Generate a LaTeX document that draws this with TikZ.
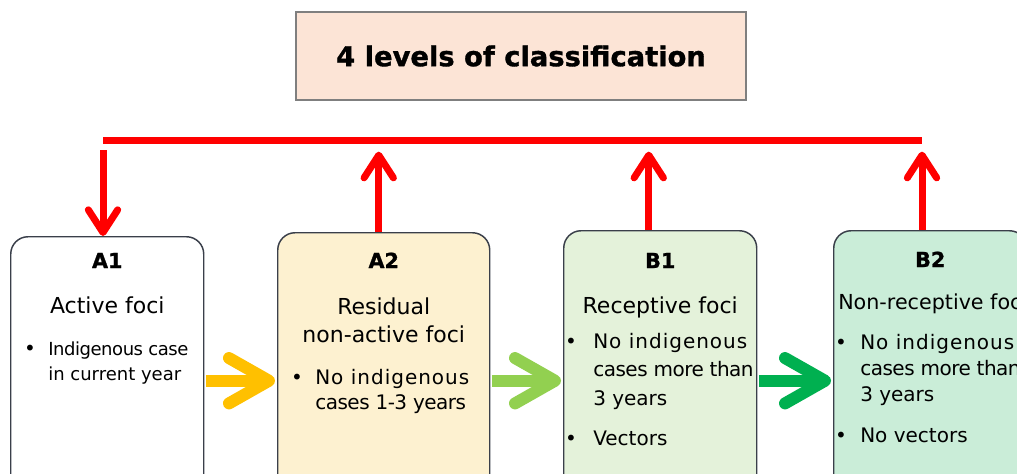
\documentclass[tikz,border=0pt]{standalone}
\usepackage{fontspec}
\setmainfont{DejaVu Sans}[BoldFeatures={FakeBold=1.2}]
\usetikzlibrary{arrows.meta}

\definecolor{peach}{HTML}{FCE4D6}
\definecolor{titleline}{HTML}{7F7F7F}
\definecolor{boxline}{HTML}{3A3F4A}
\definecolor{residual}{HTML}{FDF1D0}
\definecolor{receptive}{HTML}{E4F2DA}
\definecolor{nonreceptive}{HTML}{CAEDD8}
\definecolor{linkred}{HTML}{FF0000}
\definecolor{amber}{HTML}{FFC000}
\definecolor{lightgreen}{HTML}{92D050}
\definecolor{deepgreen}{HTML}{00B050}

% lines stacked below the first baseline
\newcommand{\leftlines}[1]{\begin{tabular}[t]{@{}l@{}}#1\end{tabular}}
\newcommand{\midlines}[1]{\begin{tabular}[t]{@{}c@{}}#1\end{tabular}}
\newcommand{\wide}[1]{{\addfontfeature{LetterSpace=5}#1}}
\newcommand{\tight}[1]{{\addfontfeature{LetterSpace=-2.5}#1}}

\tikzset{
  level/.style={draw=boxline, line width=1.1pt, rounded corners=13pt,
    anchor=north west, inner sep=0pt},
  titlebox/.style={draw=titleline, fill=peach, line width=0.9pt,
    minimum width=337.5pt, minimum height=66pt,
    font=\fontsize{20.5}{24}\selectfont\bfseries},
  head/.style={anchor=base, inner sep=0pt, font=\fontsize{15.5}{18}\selectfont\bfseries},
  sub/.style={anchor=base, inner sep=0pt, font=\fontsize{16.5}{21}\selectfont},
  bul/.style={anchor=base, inner sep=0pt, font=\fontsize{15}{18}\selectfont},
  item/.style={anchor=base west, inner sep=0pt},
  redbar/.style={draw=linkred, line width=5.25pt},
  redarrow/.style={draw=linkred, line width=5.25pt,
    -{Straight Barb[length=17pt, width=22pt, round]}},
  chevron/.style={line width=9pt, shorten <=1.5pt, shorten >=1.5pt,
    -{Straight Barb[length=30pt, width=34pt, round]}}
}

\begin{document}
\begin{tikzpicture}[x=0.75pt, y=-0.75pt]
  \useasboundingbox (0,0) rectangle (1017,474);
  \clip (0,0) rectangle (1017,474);

  % title
  \node[titlebox] (title) at (521,56) {4 levels of classification};

  % the four levels (they run past the lower edge)
  \node[level, fill=white, minimum width=144.75pt, minimum height=216pt] (a1) at (10,236) {};
  \node[level, fill=residual, minimum width=159pt, minimum height=222pt] (a2) at (277,232) {};
  \node[level, fill=receptive, minimum width=144.75pt, minimum height=225pt] (b1) at (563,230) {};
  \node[level, fill=nonreceptive, minimum width=144.75pt, minimum height=225pt] (b2) at (833,230) {};

  % A1
  \node[head] (a1h) at (a1.north |- 0,268) {A1};
  \node[sub] (a1s) at (a1.north |- 0,313) {Active foci};
  \node[bul] (a1b) at (30,355) {\textbullet};
  \node[item, font=\fontsize{13.5}{18.75}\selectfont] (a1t) at (48,355)
    {\leftlines{\tight{Indigenous case}\\in current year}};

  % A2
  \node[head] (a2h) at (a2.north |- 0,268) {A2};
  \node[sub, font=\fontsize{16.5}{21}\selectfont] (a2s) at (a2.north |- 0,314)
    {\midlines{Residual\\non-active foci}};
  \node[bul] (a2b) at (297,384) {\textbullet};
  \node[item, font=\fontsize{15}{18.75}\selectfont] (a2t) at (315,384)
    {\leftlines{\wide{No indigenous}\\\tight{cases 1-3 years}}};

  % B1
  \node[head] (b1h) at (b1.north |- 0,268) {B1};
  \node[sub] (b1s) at (b1.north |- 0,313) {Receptive foci};
  \node[bul] (b1b) at (571,348) {\textbullet};
  \node[item, font=\fontsize{15}{21.4}\selectfont] (b1t) at (593,348)
    {\leftlines{\wide{No indigenous}\\\tight{cases more than}\\3 years}};
  \node[bul] (b1c) at (571,445) {\textbullet};
  \node[item, font=\fontsize{15}{21}\selectfont] (b1v) at (593,445) {Vectors};

  % B2
  \node[head] (b2h) at (b2.north |- 0,267) {B2};
  \node[sub, anchor=base west, font=\fontsize{15.5}{21}\selectfont] (b2s) at (838,309)
    {Non-receptive foci};
  \node[bul] (b2b) at (841,349) {\textbullet};
  \node[item, font=\fontsize{15}{19.5}\selectfont] (b2t) at (860,349)
    {\leftlines{\wide{No indigenous}\\\tight{cases more than}\\3 years}};
  \node[bul] (b2c) at (841,442) {\textbullet};
  \node[item, font=\fontsize{15}{21}\selectfont] (b2v) at (860,442) {No vectors};

  % red feedback bar
  \coordinate (barL) at (103,141);
  \coordinate (barR) at (922,141);
  \draw[redbar] (barL) -- (barR);
  \draw[redarrow, shorten <=7pt] (barL) -- (barL |- a1.north);
  \draw[redarrow, shorten >=8pt] ([xshift=-3.75pt]a2.north) -- ([xshift=-3.75pt]a2.north |- barL);
  \draw[redarrow, shorten >=8pt] ([xshift=-8.6pt]b1.north) -- ([xshift=-8.6pt]b1.north |- barL);
  \draw[redarrow, shorten >=8pt] (b2.north -| barR) -- (barR);

  % progression between levels
  \draw[chevron, amber] (a1.east) -- (a2.west);
  \draw[chevron, lightgreen] (a2.east) -- (b1.west);
  \draw[chevron, deepgreen] (b1.east) -- (b2.west);

\end{tikzpicture}
\end{document}
